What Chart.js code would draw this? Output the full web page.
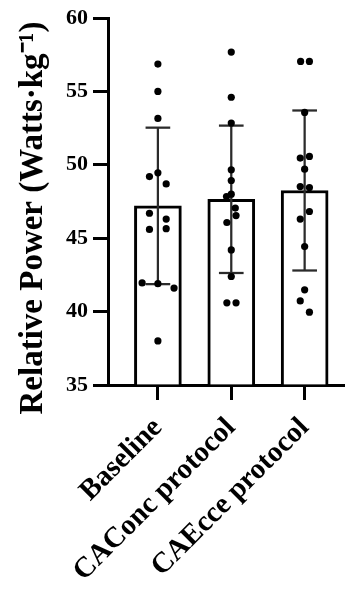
<!DOCTYPE html>
<html>
<head>
<meta charset="utf-8">
<script src="https://cdn.jsdelivr.net/npm/chart.js"></script>
<style>
    html, body { margin: 0; padding: 0; background: #fff; }
    #wrap { width: 345px; height: 590px; position: relative; }
</style>
</head>
<body>
<div id="wrap"><canvas id="powerChart"></canvas></div>
<script>
const categories = ['Baseline', 'CAConc protocol', 'CAEcce protocol'];
const yTicks = [35, 40, 45, 50, 55, 60];

const means = [47.2, 47.65, 48.25];
const sds = [5.33, 5.02, 5.45];

// individual subjects, one array per group
const baselineVals = [56.86, 55.0, 53.16, 49.45, 49.2, 48.7, 46.7, 46.3, 45.6, 45.65, 41.95, 41.9, 41.6, 38.0];
const caConcVals = [57.68, 54.6, 52.84, 49.66, 48.93, 48.0, 47.84, 47.05, 46.54, 46.07, 44.2, 42.39, 40.6, 40.6];
const caEcceVals = [57.04, 57.04, 53.57, 50.46, 50.57, 49.7, 48.52, 48.45, 46.82, 46.3, 44.43, 41.48, 40.73, 39.96];

// horizontal jitter of the dots, in category units
const baselineJitter = [0, 0, 0, 0, -0.115, 0.113, -0.115, 0.113, -0.115, 0.113, -0.215, 0, 0.22, 0];
const caConcJitter = [0, 0, 0, 0, 0, 0, -0.065, 0.055, 0.065, -0.06, 0, 0, -0.06, 0.065];
const caEcceJitter = [-0.055, 0.065, 0, -0.06, 0.065, 0, -0.06, 0.065, 0.065, -0.06, 0, 0, -0.06, 0.065];

const FONT = "'Liberation Serif', 'Times New Roman', serif";
const ERR_COLOR = '#2b2b2b';
const CAP_HALF = 0.055; // half thickness of the SD caps, in y units

function dots(vals, jitter, group) {
    return vals.map((v, i) => ({ x: group + jitter[i], y: v }));
}

const barData = means.map((m, i) => ({ x: i, y: m }));
const errData = means.map((m, i) => ({ x: i, y: [m - sds[i], m + sds[i]] }));
const capTop = means.map((m, i) => ({ x: i, y: [m + sds[i] - CAP_HALF, m + sds[i] + CAP_HALF] }));
const capBottom = means.map((m, i) => ({ x: i, y: [m - sds[i] - CAP_HALF, m - sds[i] + CAP_HALF] }));
const dotData = [
    ...dots(baselineVals, baselineJitter, 0),
    ...dots(caConcVals, caConcJitter, 1),
    ...dots(caEcceVals, caEcceJitter, 2)
];

function errSet(data, thickness) {
    return {
        type: 'bar',
        data: data,
        grouped: false,
        barThickness: thickness,
        backgroundColor: ERR_COLOR,
        borderWidth: 0,
        order: 1
    };
}

new Chart(document.getElementById('powerChart'), {
    data: {
        datasets: [
            {
                type: 'scatter',
                data: dotData,
                pointStyle: 'circle',
                pointRadius: 3.6,
                backgroundColor: '#000',
                borderWidth: 0,
                order: 0
            },
            errSet(errData, 1.6),
            errSet(capTop, 24),
            errSet(capBottom, 24),
            {
                type: 'bar',
                data: barData,
                grouped: false,
                base: 35,
                barThickness: 47,
                backgroundColor: '#fff',
                borderColor: '#000',
                borderWidth: 3,
                borderSkipped: 'start',
                order: 3
            }
        ]
    },
    options: {
        responsive: true,
        maintainAspectRatio: false,
        animation: false,
        layout: {
            autoPadding: false,
            padding: { top: 18, right: 0, left: 0, bottom: 0 }
        },
        plugins: {
            legend: { display: false },
            tooltip: { enabled: false }
        },
        scales: {
            x: {
                type: 'linear',
                bounds: 'data',
                offset: false,
                min: -0.68,
                max: 2.55,
                grid: {
                    offset: false,
                    drawOnChartArea: false,
                    tickLength: 15,
                    tickWidth: 3,
                    tickColor: '#000'
                },
                border: { display: true, width: 3, color: '#000' },
                afterBuildTicks: (scale) => {
                    scale.ticks = categories.map((c, i) => ({ value: i }));
                },
                afterFit: (scale) => {
                    scale.height = 205;
                    scale.paddingLeft = 0;
                    scale.paddingRight = 0;
                },
                ticks: {
                    autoSkip: false,
                    maxRotation: 45,
                    minRotation: 45,
                    padding: 11,
                    color: '#000',
                    font: { family: FONT, size: 29, weight: 'bold' },
                    callback: (v) => categories[v]
                }
            },
            y: {
                type: 'linear',
                min: yTicks[0],
                max: yTicks[yTicks.length - 1],
                grid: {
                    drawOnChartArea: false,
                    tickLength: 15,
                    tickWidth: 3,
                    tickColor: '#000'
                },
                border: { display: true, width: 3, color: '#000' },
                afterBuildTicks: (scale) => {
                    scale.ticks = yTicks.map(v => ({ value: v }));
                },
                afterFit: (scale) => {
                    scale.width = 108;
                    scale.paddingTop = 0;
                    scale.paddingBottom = 0;
                },
                ticks: {
                    padding: 5,
                    color: '#000',
                    font: { family: FONT, size: 22, weight: 'bold' }
                },
                title: {
                    display: true,
                    text: 'Relative Power (Watts·kg⁻¹)    ',
                    color: '#000',
                    padding: { top: 14, bottom: 0 },
                    font: { family: FONT, size: 33, weight: 'bold' }
                }
            }
        }
    }
});
</script>
</body>
</html>
